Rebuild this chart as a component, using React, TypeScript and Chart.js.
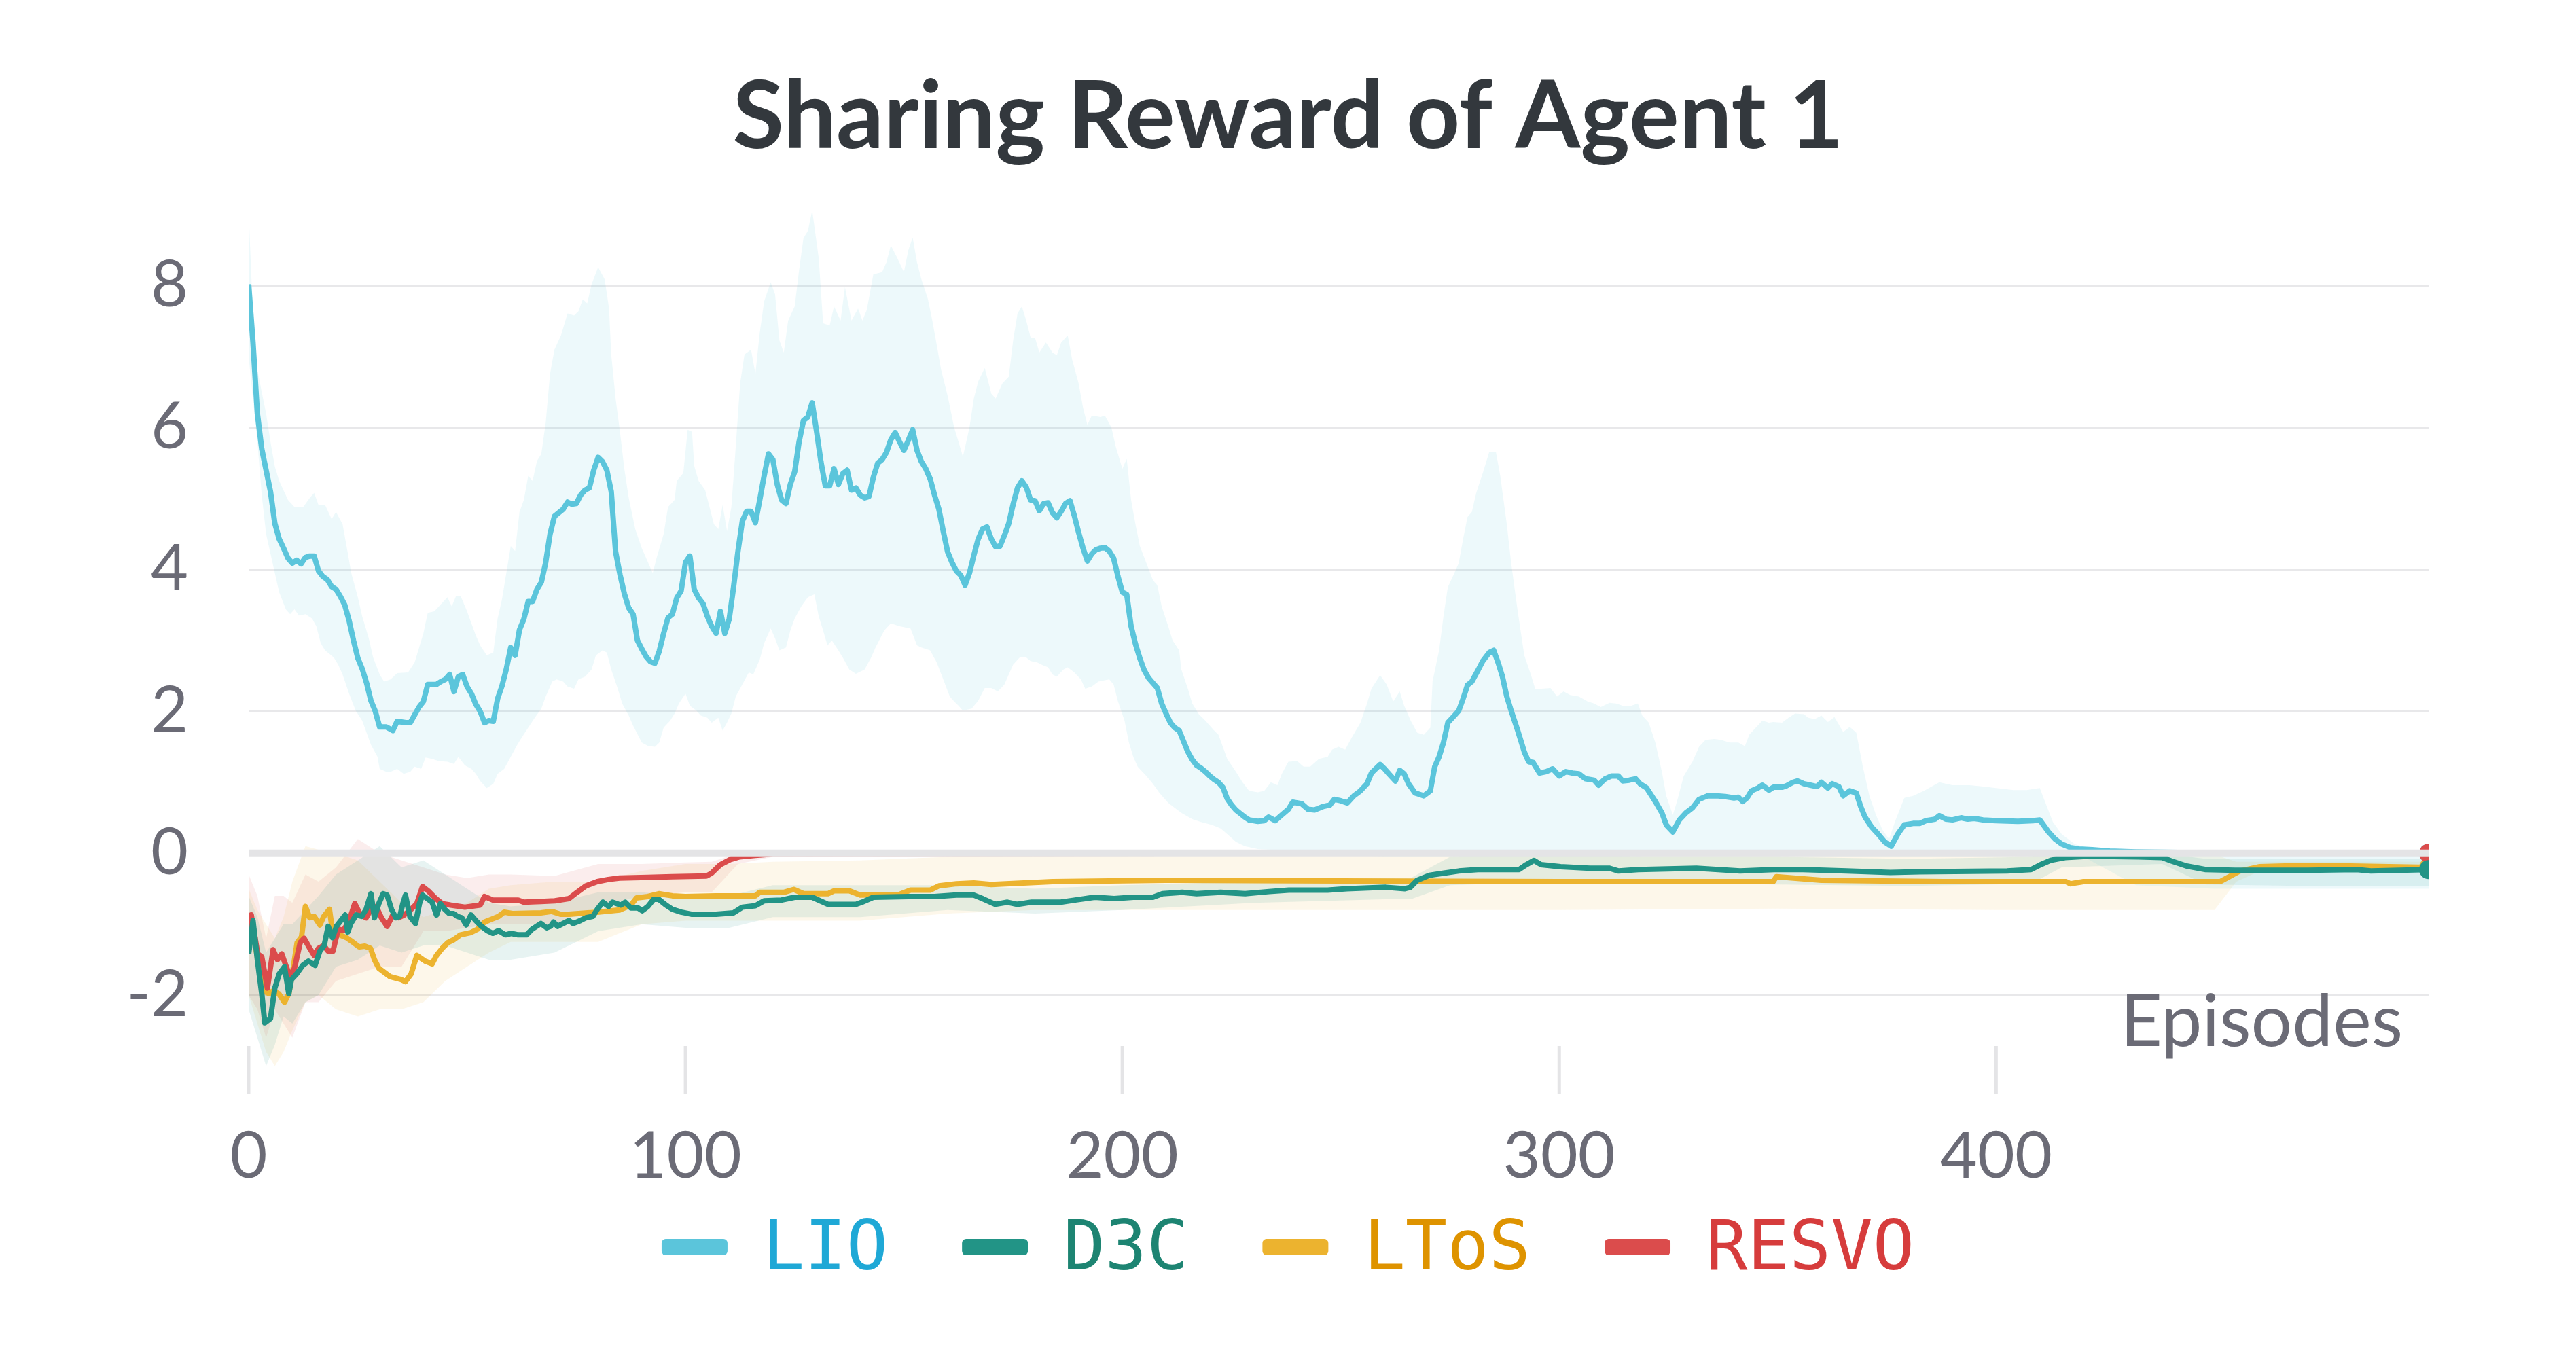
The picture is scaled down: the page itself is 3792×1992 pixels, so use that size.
import { useEffect, useRef } from "react";
import { Chart, registerables } from "chart.js";

Chart.register(...registerables);

// series names and colours, in legend order
const seriesNames = ["LIO", "D3C", "LToS", "RESVO"];
const lineColors = ["#5bc5db", "#229486", "#ecb32f", "#db4c4c"];
const textColors = ["#1fa8d6", "#1d8472", "#de9300", "#d63c3c"];
const bandColors = [
  "rgba(91, 197, 219, 0.11)",
  "rgba(34, 148, 134, 0.11)",
  "rgba(236, 179, 47, 0.1)",
  "rgba(219, 76, 76, 0.1)",
];

const xTicks = [0, 100, 200, 300, 400];
const yTicks = [-2, 0, 2, 4, 6, 8];

type Pt = [number, number];

// [episode, reward]
const lioMean: Pt[] = [
  [0, 8.02], [1, 7.2], [2, 6.2], [3, 5.7], [4, 5.4], [5, 5.1], [6, 4.65], [7, 4.43], [8, 4.3], [9, 4.16],
  [10, 4.09], [11, 4.13], [12, 4.08], [13, 4.17], [14, 4.19], [15, 4.19], [16, 3.98], [17, 3.9], [18, 3.86],
  [19, 3.76], [20, 3.72], [21, 3.62], [22, 3.5], [23, 3.28], [24, 3.0], [25, 2.75], [26, 2.6], [27, 2.4],
  [28, 2.15], [29, 2.0], [30, 1.78], [31.5, 1.78], [33, 1.73], [34, 1.86], [36, 1.84], [37, 1.84], [39, 2.06],
  [40, 2.14], [41, 2.38], [43, 2.38], [44, 2.42], [45, 2.45], [46, 2.52], [47, 2.28], [48, 2.49], [49, 2.52],
  [50, 2.35], [51, 2.25], [52, 2.1], [53, 2.0], [54, 1.84], [55, 1.87], [56, 1.86], [57, 2.18], [58, 2.36],
  [59, 2.6], [60, 2.9], [61, 2.79], [62, 3.15], [63, 3.3], [64, 3.55], [65, 3.55], [66, 3.72], [67, 3.82],
  [68, 4.1], [69, 4.5], [70, 4.75], [71, 4.8], [72, 4.85], [73, 4.95], [74, 4.92], [75, 4.93], [76, 5.05],
  [77, 5.12], [78, 5.15], [79, 5.4], [80, 5.58], [81, 5.52], [82, 5.4], [83, 5.1], [84, 4.25], [85, 3.93],
  [86, 3.66], [87, 3.46], [88, 3.37], [89, 3.0], [90, 2.88], [91, 2.77], [92, 2.7], [93, 2.68], [94, 2.85],
  [95, 3.1], [96, 3.32], [97, 3.37], [98, 3.6], [99, 3.7], [100, 4.1], [101, 4.19], [102, 3.72], [103, 3.6],
  [104, 3.52], [105, 3.34], [106, 3.2], [107, 3.1], [108, 3.41], [109, 3.1], [110, 3.3], [111, 3.75],
  [112, 4.25], [113, 4.68], [114, 4.82], [115, 4.82], [116, 4.66], [117, 4.98], [118, 5.32], [119, 5.63],
  [120, 5.55], [121, 5.2], [122, 4.98], [123, 4.93], [124, 5.2], [125, 5.38], [126, 5.8], [127, 6.1],
  [128, 6.15], [129, 6.35], [130, 5.95], [131, 5.52], [132, 5.18], [133, 5.18], [134, 5.42], [135, 5.2],
  [136, 5.35], [137, 5.4], [138, 5.12], [139, 5.15], [140, 5.05], [141, 5.01], [142, 5.03], [143, 5.3],
  [144, 5.5], [145, 5.55], [146, 5.65], [147, 5.83], [148, 5.93], [149, 5.8], [150, 5.68], [151, 5.82],
  [152, 5.97], [153, 5.68], [154, 5.52], [155, 5.42], [156, 5.28], [157, 5.05], [158, 4.85], [159, 4.54],
  [160, 4.25], [161, 4.1], [162, 3.98], [163, 3.92], [164, 3.78], [165, 3.95], [166, 4.2], [167, 4.43],
  [168, 4.57], [169, 4.6], [170, 4.43], [171, 4.32], [172, 4.33], [173, 4.48], [174, 4.65], [175, 4.92],
  [176, 5.15], [177, 5.25], [178, 5.16], [179, 4.98], [180, 4.97], [181, 4.83], [182, 4.93], [183, 4.94],
  [184, 4.8], [185, 4.73], [186, 4.82], [187, 4.93], [188, 4.97], [189, 4.76], [190, 4.52], [191, 4.3],
  [192, 4.12], [193, 4.22], [194, 4.28], [195, 4.3], [196, 4.31], [197, 4.26], [198, 4.16], [199, 3.9],
  [200, 3.68], [201, 3.65], [202, 3.2], [203, 2.95], [204, 2.75], [205, 2.58], [206, 2.47], [207, 2.4],
  [208, 2.33], [209, 2.11], [210, 1.97], [211, 1.84], [212, 1.77], [213, 1.73], [214, 1.58], [215, 1.43],
  [216, 1.32], [217, 1.24], [218, 1.2], [219, 1.15], [220, 1.09], [221, 1.04], [222, 1.0], [223, 0.93],
  [224, 0.77], [225, 0.68], [226, 0.61], [227, 0.56], [228, 0.51], [229, 0.47], [231, 0.45], [232.5, 0.46],
  [233.5, 0.51], [235, 0.46], [236.5, 0.54], [238, 0.62], [239, 0.72], [241, 0.7], [242.5, 0.62], [244, 0.61],
  [246, 0.66], [247.5, 0.68], [248.5, 0.76], [250, 0.74], [251.5, 0.71], [253, 0.81], [254.5, 0.88],
  [256, 0.98], [257, 1.13], [259, 1.25], [260, 1.19], [261, 1.12], [262.5, 1.02], [263.5, 1.17],
  [264.5, 1.12], [265.5, 0.98], [267, 0.85], [268, 0.83], [269, 0.81], [270.5, 0.88], [271.5, 1.22],
  [272.5, 1.36], [273.5, 1.56], [274.5, 1.84], [276, 1.94], [277, 2.01], [278, 2.18], [279, 2.37],
  [280, 2.42], [281.5, 2.59], [282.5, 2.71], [284, 2.83], [285, 2.86], [286, 2.69], [287, 2.49], [288, 2.21],
  [289, 2.01], [290.5, 1.73], [292, 1.43], [293, 1.29], [294, 1.28], [295.5, 1.13], [297, 1.15],
  [298.5, 1.19], [300, 1.09], [301.5, 1.15], [303, 1.13], [304.5, 1.12], [306, 1.05], [308, 1.03],
  [309, 0.96], [310.5, 1.05], [312, 1.09], [313.5, 1.09], [314.5, 1.02], [316, 1.03], [317.5, 1.05],
  [318.5, 0.98], [320, 0.92], [322, 0.73], [323.5, 0.57], [324.5, 0.4], [326, 0.3], [327.5, 0.47],
  [329, 0.57], [330.5, 0.64], [332, 0.76], [334, 0.81], [336, 0.81], [338, 0.8], [340, 0.78], [341, 0.79],
  [342, 0.73], [343, 0.78], [344, 0.88], [345.5, 0.92], [346.5, 0.96], [348, 0.89], [349, 0.93], [351, 0.93],
  [352, 0.95], [353.5, 1.0], [354.5, 1.02], [356, 0.98], [357.5, 0.96], [359, 0.94], [360, 1.0],
  [361.5, 0.92], [362.5, 0.98], [364, 0.94], [365, 0.81], [366.5, 0.88], [368, 0.85], [369, 0.66],
  [370, 0.51], [371.5, 0.37], [373, 0.27], [374.5, 0.16], [376, 0.1], [377.5, 0.27], [379, 0.4], [381, 0.42],
  [382.5, 0.42], [384, 0.46], [386, 0.48], [387, 0.53], [388.5, 0.48], [390, 0.47], [392, 0.5], [393.5, 0.48],
  [395, 0.49], [397, 0.47], [400, 0.46], [405, 0.45], [408.5, 0.46], [410, 0.47], [412, 0.3], [413.5, 0.2],
  [415, 0.13], [417, 0.08], [419, 0.06], [422, 0.05], [426, 0.03], [432, 0.02], [445, 0.01], [499, 0.0],
];

const lioUpper: Pt[] = [
  [0, 9.05], [1, 7.57], [2, 6.82], [3, 6.5], [4, 6.2], [5, 5.8], [6, 5.45], [7, 5.25], [9, 4.98], [10.5, 4.88],
  [12.5, 4.88], [14, 5.01], [15, 5.08], [16, 4.91], [17.5, 4.91], [19, 4.71], [20, 4.81], [21.5, 4.64],
  [22.5, 4.3], [23.5, 3.95], [25, 3.61], [26, 3.34], [27.5, 3.03], [28.5, 2.76], [30, 2.52], [31, 2.42],
  [32.5, 2.45], [34, 2.54], [36.5, 2.55], [38, 2.69], [40, 3.1], [41, 3.39], [42.5, 3.41], [44, 3.51],
  [45.5, 3.61], [46.5, 3.48], [47.5, 3.63], [48.5, 3.63], [50, 3.41], [51, 3.24], [52, 3.07], [53, 2.93],
  [54.5, 2.79], [56, 2.83], [57, 3.31], [58, 3.58], [60, 4.33], [61, 4.26], [62, 4.81], [63, 4.98], [64, 5.32],
  [65, 5.25], [66, 5.53], [67, 5.63], [68, 6.07], [69, 6.76], [70, 7.1], [71.5, 7.3], [73, 7.61], [74.5, 7.58],
  [75.5, 7.64], [76.5, 7.81], [77.5, 7.75], [78.5, 8.02], [80, 8.26], [81.5, 8.09], [82.5, 7.68], [83, 7.03],
  [84, 6.41], [85, 5.94], [86, 5.42], [87, 5.01], [88.5, 4.57], [90, 4.3], [91.5, 4.09], [92.5, 3.95],
  [93.5, 4.19], [95, 4.5], [96, 4.88], [97.5, 4.98], [98, 5.25], [99.5, 5.36], [100.5, 5.97], [101.5, 5.94],
  [102, 5.46], [103, 5.25], [104.5, 5.12], [105.5, 4.88], [106.5, 4.64], [107.5, 4.57], [108.5, 4.91],
  [109.5, 4.54], [110.5, 4.88], [111.5, 5.73], [112.5, 6.62], [113.5, 7.03], [115, 7.1], [116, 6.76],
  [117, 7.34], [118, 7.78], [119.5, 8.05], [120.5, 7.88], [121.5, 7.23], [122.5, 7.06], [123.5, 7.51],
  [125, 7.71], [126, 8.22], [127, 8.67], [128, 8.77], [129, 9.06], [130.5, 8.39], [131.5, 7.47], [133, 7.44],
  [134, 7.71], [135.5, 7.51], [136.5, 7.98], [138, 7.51], [139.5, 7.68], [140.5, 7.51], [141.5, 7.66],
  [143, 8.16], [145, 8.19], [146, 8.33], [147, 8.57], [148.5, 8.39], [150, 8.19], [151, 8.5], [152, 8.68],
  [153, 8.33], [154, 8.09], [155.5, 7.81], [156.5, 7.51], [157.5, 7.17], [158.5, 6.82], [160, 6.45],
  [161.5, 6.0], [162.5, 5.8], [163.5, 5.59], [165, 6.0], [166, 6.41], [167, 6.65], [168.5, 6.84], [170, 6.48],
  [171, 6.41], [172.5, 6.62], [174, 6.72], [175, 7.23], [176, 7.61], [177, 7.71], [178, 7.51], [179, 7.27],
  [180, 7.27], [181, 7.06], [182.5, 7.2], [184, 7.06], [185, 7.02], [186, 7.2], [187.5, 7.3], [188.5, 6.96],
  [190, 6.62], [191, 6.28], [192, 6.04], [193, 6.17], [195, 6.15], [196, 6.17], [197.5, 6.0], [198.5, 5.73],
  [200, 5.42], [201, 5.56], [202, 4.98], [203, 4.64], [204, 4.33], [205.5, 4.09], [207, 3.85], [208, 3.78],
  [209, 3.48], [210.5, 3.2], [211.5, 3.0], [213, 2.86], [213.5, 2.59], [215, 2.32], [216, 2.11],
  [217.5, 1.96], [219, 1.87], [221, 1.73], [222, 1.67], [223, 1.5], [224, 1.33], [226, 1.15], [227.5, 1.0],
  [229, 0.88], [231, 0.86], [232.5, 0.88], [234, 1.0], [235.5, 0.96], [236.5, 1.12], [238, 1.29], [240, 1.3],
  [241.5, 1.22], [243, 1.22], [245, 1.33], [247, 1.36], [248, 1.46], [249.5, 1.5], [251, 1.46], [252.5, 1.63],
  [254.5, 1.84], [256, 2.11], [257, 2.32], [259, 2.51], [260.5, 2.38], [262, 2.14], [263.5, 2.28],
  [264.5, 2.08], [266, 1.87], [267.5, 1.7], [269, 1.67], [270.5, 1.77], [271, 2.42], [272.5, 2.86],
  [273.5, 3.34], [274.5, 3.75], [276, 3.95], [277, 4.09], [278, 4.43], [279, 4.74], [280, 4.81], [281, 5.08],
  [282.5, 5.36], [284, 5.66], [285.5, 5.66], [286.5, 5.32], [288, 4.64], [289, 4.09], [290.5, 3.41],
  [292, 2.79], [293.5, 2.52], [294.5, 2.32], [296, 2.32], [298, 2.33], [299.5, 2.21], [301, 2.28],
  [302.5, 2.23], [304.5, 2.21], [306.5, 2.14], [308, 2.11], [309.5, 2.06], [311.5, 2.12], [313, 2.11],
  [314.5, 2.08], [316.5, 2.08], [318, 2.11], [319, 1.94], [320.5, 1.84], [322, 1.56], [323.5, 1.15],
  [324.5, 0.81], [326, 0.54], [327, 0.74], [328.5, 1.09], [330.5, 1.29], [332, 1.5], [333.5, 1.6],
  [335.5, 1.61], [337, 1.6], [339, 1.56], [341, 1.56], [342.5, 1.51], [343.5, 1.67], [345, 1.77],
  [346.5, 1.87], [348, 1.84], [349, 1.85], [351, 1.84], [352.5, 1.91], [354, 1.97], [356, 1.96], [357, 1.91],
  [358.5, 1.89], [360, 1.94], [361.5, 1.85], [363, 1.92], [365, 1.71], [366.5, 1.78], [368, 1.7],
  [369.5, 1.22], [371, 0.81], [372.5, 0.54], [374, 0.33], [375.5, 0.2], [377, 0.47], [379, 0.78], [381, 0.81],
  [383.5, 0.88], [387, 1.0], [390, 0.96], [394, 0.96], [397, 0.94], [400, 0.92], [404, 0.89], [407, 0.89],
  [410, 0.92], [411.5, 0.68], [413, 0.44], [415, 0.27], [418, 0.13], [422.5, 0.05], [430, 0.03], [499, 0.02],
];

const lioLower: Pt[] = [
  [0, 7.0], [1, 6.4], [2, 5.8], [3, 5.05], [4, 4.5], [6, 3.95], [7, 3.68], [8.5, 3.44], [9.5, 3.37],
  [10.5, 3.44], [11.5, 3.35], [13, 3.37], [14.5, 3.31], [15.5, 3.2], [16.5, 2.96], [17.5, 2.86], [19.5, 2.76],
  [20.5, 2.66], [21.5, 2.52], [23, 2.25], [24.5, 2.01], [26, 1.87], [27, 1.7], [28, 1.53], [29.5, 1.36],
  [30, 1.19], [31.5, 1.15], [32.5, 1.15], [34, 1.19], [35.5, 1.12], [37, 1.15], [38, 1.22], [39.5, 1.19],
  [40.5, 1.35], [42, 1.33], [43.5, 1.3], [45.5, 1.29], [47, 1.26], [48, 1.36], [49.5, 1.24], [51, 1.19],
  [52, 1.12], [53, 1.02], [54.5, 0.92], [56, 0.98], [57, 1.12], [58.5, 1.19], [60, 1.36], [61.5, 1.53],
  [62.5, 1.63], [64, 1.77], [65.5, 1.91], [67, 2.04], [68, 2.21], [69.5, 2.42], [70.5, 2.45], [72, 2.42],
  [73, 2.35], [74.5, 2.32], [75.5, 2.45], [77, 2.49], [78.5, 2.59], [79.5, 2.79], [81, 2.86], [82, 2.83],
  [83, 2.59], [84.5, 2.32], [85.5, 2.11], [87, 1.94], [88, 1.8], [90, 1.56], [91.5, 1.51], [93, 1.5],
  [94, 1.56], [95, 1.77], [96.5, 1.87], [97.5, 1.97], [98.5, 2.11], [100, 2.25], [101, 2.08], [102.5, 2.01],
  [103.5, 1.94], [105, 1.91], [106, 1.84], [107.5, 1.91], [108.5, 1.73], [109.5, 1.84], [110.5, 1.97],
  [111.5, 2.21], [113, 2.38], [114.5, 2.55], [115.5, 2.52], [117, 2.73], [118, 2.96], [119.5, 3.17],
  [120.5, 3.03], [121.5, 2.86], [123, 2.9], [124, 3.14], [125, 3.31], [126.5, 3.48], [128, 3.61],
  [129.5, 3.65], [130.5, 3.34], [131.5, 3.14], [132.5, 2.93], [133.5, 3.0], [135, 2.86], [136, 2.76],
  [137.5, 2.59], [139, 2.53], [141, 2.59], [142.5, 2.76], [143.5, 2.9], [145.5, 3.14], [147, 3.24],
  [149, 3.2], [151.5, 3.17], [153, 2.93], [154, 2.9], [156, 2.86], [157.5, 2.69], [159, 2.45], [160.5, 2.21],
  [161.5, 2.14], [162.5, 2.08], [163.5, 2.01], [165.5, 2.04], [167, 2.15], [168.5, 2.33], [170, 2.33],
  [171.5, 2.28], [173, 2.38], [174, 2.52], [175, 2.66], [176.5, 2.76], [178, 2.76], [179, 2.71],
  [180.5, 2.69], [181.5, 2.66], [183, 2.62], [184, 2.52], [185, 2.49], [186.5, 2.59], [187.5, 2.62],
  [189, 2.55], [190.5, 2.45], [191.5, 2.32], [193, 2.35], [194.5, 2.42], [196, 2.44], [197, 2.45],
  [198, 2.38], [199, 2.14], [200.5, 1.87], [201.5, 1.56], [202.5, 1.36], [203.5, 1.22], [205.5, 1.09],
  [207, 0.98], [208.5, 0.85], [210.5, 0.71], [212, 0.64], [213.5, 0.57], [216, 0.48], [218, 0.44],
  [220.5, 0.4], [222.5, 0.35], [224, 0.27], [226, 0.16], [228, 0.1], [231, 0.06], [234, 0.05], [236, 0.03],
  [240, -0.02], [260, -0.05], [300, -0.05], [360, -0.05], [420, -0.05], [432, -0.45], [450, -0.5],
  [499, -0.5],
];

const d3cMean: Pt[] = [
  [0, -1.42], [1, -0.95], [2, -1.5], [3, -1.98], [3.7, -2.39], [5, -2.33], [6, -1.9], [7, -1.7], [8.2, -1.6],
  [9.2, -1.98], [9.8, -1.78], [11, -1.7], [12.4, -1.58], [13.7, -1.52], [15.2, -1.58], [16.3, -1.38],
  [17.3, -1.3], [18.2, -1.03], [19.2, -1.19], [20.1, -1.03], [21.1, -0.95], [22.1, -0.87], [22.7, -1.11],
  [23.4, -0.99], [24.6, -0.87], [25.9, -0.89], [26.9, -0.79], [28, -0.57], [28.8, -0.91], [29.8, -0.71],
  [30.8, -0.57], [31.7, -0.59], [32.7, -0.79], [33.7, -0.91], [34.6, -0.89], [35.3, -0.71], [35.9, -0.59],
  [36.9, -0.89], [38.2, -0.99], [39.1, -0.71], [39.8, -0.59], [41.1, -0.65], [42, -0.69], [43, -0.87],
  [43.9, -0.71], [44.9, -0.79], [45.9, -0.85], [46.9, -0.85], [47.8, -0.89], [48.8, -0.91], [49.8, -1.01],
  [50.9, -0.87], [52, -0.95], [53.3, -1.03], [54.6, -1.09], [55.9, -1.13], [57.2, -1.09], [58.8, -1.15],
  [60.1, -1.13], [61.7, -1.15], [63.6, -1.15], [64.9, -1.07], [66.9, -0.99], [68.2, -1.05], [69.1, -1.03],
  [69.8, -0.97], [70.7, -1.03], [72, -0.99], [73.3, -0.95], [74.3, -0.99], [75.9, -0.95], [77.2, -0.91],
  [78.8, -0.89], [79.8, -0.79], [81.1, -0.69], [82.4, -0.75], [83.3, -0.69], [85.2, -0.73], [86.2, -0.69],
  [87.5, -0.77], [89.1, -0.77], [90.1, -0.81], [91.4, -0.75], [92.7, -0.65], [93.9, -0.65], [95.5, -0.73],
  [97, -0.79], [99, -0.83], [101.5, -0.86], [104, -0.86], [107, -0.86], [109, -0.85], [111, -0.84],
  [113, -0.76], [116, -0.74], [118, -0.67], [122, -0.66], [125, -0.62], [129, -0.62], [132.6, -0.72],
  [139, -0.72], [140.4, -0.69], [143, -0.62], [151, -0.61], [157, -0.61], [162, -0.59], [166, -0.59],
  [168, -0.64], [170.9, -0.72], [173.7, -0.69], [175.9, -0.72], [179.2, -0.69], [185.9, -0.69],
  [189.2, -0.66], [193.7, -0.62], [198.1, -0.64], [202.5, -0.62], [207, -0.62], [209.2, -0.57],
  [213.7, -0.55], [217, -0.57], [222.5, -0.55], [228.1, -0.57], [233.6, -0.54], [238.1, -0.52], [247, -0.52],
  [251.4, -0.5], [260.3, -0.48], [264.7, -0.5], [265.9, -0.48], [267.5, -0.38], [270.3, -0.31],
  [273.6, -0.28], [277, -0.25], [281.4, -0.23], [290.8, -0.23], [292.5, -0.16], [294.2, -0.1],
  [295.8, -0.16], [300.3, -0.19], [307, -0.21], [311.4, -0.21], [313.6, -0.25], [318.1, -0.23],
  [331.4, -0.21], [341.4, -0.25], [349.2, -0.23], [355.8, -0.23], [365.8, -0.25], [375.8, -0.27],
  [382.5, -0.26], [402.5, -0.25], [408, -0.23], [410.2, -0.16], [412.5, -0.1], [415.8, -0.06], [421.3, -0.04],
  [432.5, -0.05], [438, -0.06], [440.2, -0.11], [443.6, -0.18], [448, -0.23], [454.7, -0.24], [471.3, -0.24],
  [482.5, -0.23], [485.8, -0.25], [499, -0.23],
];

const ltosMean: Pt[] = [
  [0, -1.26], [1, -1.11], [2.1, -1.5], [3.4, -1.94], [4.7, -1.98], [5.6, -1.94], [6.9, -1.98], [8.2, -2.1],
  [9.2, -1.98], [10.1, -1.66], [11.1, -1.26], [12.1, -1.18], [13, -0.75], [14, -0.91], [15, -0.89],
  [16.3, -1.01], [17.2, -0.89], [18.5, -0.79], [19.3, -1.15], [20.8, -1.15], [22.4, -1.19], [24, -1.26],
  [25.3, -1.32], [26.6, -1.31], [27.9, -1.34], [28.8, -1.5], [29.8, -1.62], [31.1, -1.68], [32.4, -1.74],
  [33.7, -1.76], [34.9, -1.78], [35.9, -1.81], [37.2, -1.7], [38.5, -1.44], [40.4, -1.52], [42, -1.56],
  [43, -1.44], [44.3, -1.34], [45.6, -1.26], [46.9, -1.22], [48.5, -1.15], [50.8, -1.12], [52.4, -1.07],
  [54, -0.97], [55.6, -0.93], [57.2, -0.89], [58.5, -0.83], [60.4, -0.85], [66.9, -0.84], [69.4, -0.82],
  [71.4, -0.86], [73.3, -0.86], [79.8, -0.83], [84.9, -0.8], [87.5, -0.73], [88.8, -0.63], [91.4, -0.61],
  [93.9, -0.57], [97, -0.6], [100, -0.61], [107, -0.6], [116, -0.6], [117, -0.55], [122.6, -0.55],
  [124.8, -0.51], [127, -0.57], [132.6, -0.57], [134, -0.53], [137.5, -0.53], [140, -0.59], [149, -0.58],
  [151.5, -0.52], [156, -0.52], [158, -0.46], [162, -0.43], [166, -0.42], [170, -0.44], [184, -0.4],
  [210, -0.38], [250, -0.39], [300, -0.4], [349, -0.4], [349.7, -0.33], [360, -0.38], [388, -0.4],
  [416, -0.4], [417, -0.43], [420, -0.4], [451.3, -0.4], [455.8, -0.25], [460.2, -0.19], [472, -0.17],
  [499, -0.2],
];

const resvoMean: Pt[] = [
  [0, -1.2], [0.6, -0.87], [2.1, -1.42], [3, -1.46], [4.3, -1.9], [5.6, -1.36], [6.6, -1.5], [7.6, -1.42],
  [8.5, -1.58], [9.5, -1.74], [10.5, -1.62], [11.8, -1.26], [12.7, -1.2], [14, -1.34], [15, -1.44],
  [16, -1.34], [17.2, -1.3], [18.2, -1.38], [19.3, -1.38], [20.5, -1.07], [21.7, -1.09], [23, -0.95],
  [24.3, -0.71], [25.6, -0.87], [26.9, -0.91], [28, -0.79], [29.2, -0.75], [30.4, -0.91], [31.7, -1.03],
  [33, -0.87], [34.3, -0.91], [35.6, -0.87], [37.2, -0.79], [38.5, -0.71], [39.8, -0.47], [41.1, -0.53],
  [42.7, -0.63], [44.3, -0.71], [46.2, -0.73], [49.5, -0.76], [53, -0.73], [54, -0.61], [55.9, -0.66],
  [61.7, -0.66], [63, -0.69], [66.9, -0.68], [70.1, -0.67], [73.3, -0.64], [75.2, -0.55], [77.2, -0.46],
  [79.8, -0.4], [82.3, -0.37], [84.9, -0.35], [91.4, -0.34], [97, -0.33], [104.8, -0.32], [106, -0.28],
  [108, -0.16], [110.2, -0.09], [112.4, -0.05], [116, -0.03], [120, -0.01], [499, 0.0],
];

const d3cUpper: Pt[] = [
  [0, -0.6], [2, -0.9], [4, -1.4], [6, -1.2], [8, -1.0], [10, -1.0], [13, -0.8], [16, -0.6], [20, -0.3],
  [25, -0.1], [30, 0.1], [35, -0.2], [40, -0.1], [45, -0.3], [50, -0.5], [55, -0.7], [60, -0.75], [70, -0.7],
  [80, -0.55], [90, -0.55], [100, -0.6], [110, -0.6], [120, -0.45], [140, -0.45], [160, -0.45], [180, -0.5],
  [200, -0.45], [230, -0.4], [260, -0.35], [266, -0.35], [275, -0.05], [290, -0.03], [320, -0.05],
  [350, -0.05], [380, -0.08], [408, -0.05], [415, 0.0], [438, 0.0], [448, -0.08], [470, -0.08], [499, -0.08],
];
const d3cLower: Pt[] = [
  [0, -2.2], [2, -2.6], [4, -3.0], [6, -2.7], [8, -2.3], [10, -2.4], [13, -2.1], [16, -2.0], [20, -1.6],
  [25, -1.5], [30, -1.3], [35, -1.4], [40, -1.3], [45, -1.3], [50, -1.4], [55, -1.5], [60, -1.5], [70, -1.4],
  [80, -1.1], [90, -1.0], [100, -1.05], [110, -1.05], [120, -0.9], [140, -0.9], [160, -0.8], [180, -0.85],
  [200, -0.8], [230, -0.7], [260, -0.65], [266, -0.65], [275, -0.45], [290, -0.42], [320, -0.42],
  [350, -0.44], [380, -0.46], [408, -0.43], [415, -0.2], [438, -0.15], [448, -0.44], [470, -0.46],
  [499, -0.46],
];

const ltosUpper: Pt[] = [
  [0, -0.5], [2, -0.8], [4, -1.0], [6, -1.2], [8, -0.9], [10, -0.4], [13, 0.1], [16, 0.05], [20, 0.0],
  [25, -0.1], [30, -0.4], [35, -0.7], [40, -0.9], [45, -0.8], [50, -0.7], [55, -0.5], [60, -0.45],
  [70, -0.4], [80, -0.4], [90, -0.25], [100, -0.15], [110, -0.15], [120, -0.12], [140, -0.1], [160, -0.05],
  [180, -0.02], [230, -0.02], [300, -0.02], [350, 0.0], [400, -0.02], [450, -0.02], [455, -0.12],
  [460, -0.12], [480, -0.12], [499, -0.12],
];
const ltosLower: Pt[] = [
  [0, -2.0], [2, -2.4], [4, -2.8], [6, -3.0], [8, -2.8], [10, -2.5], [13, -2.1], [16, -2.0], [20, -2.2],
  [25, -2.3], [30, -2.2], [35, -2.2], [40, -2.1], [45, -1.8], [50, -1.6], [55, -1.4], [60, -1.25],
  [70, -1.25], [80, -1.25], [90, -1.0], [100, -0.95], [110, -0.95], [120, -0.95], [140, -0.95], [160, -0.85],
  [180, -0.8], [230, -0.8], [300, -0.8], [350, -0.78], [400, -0.8], [450, -0.8], [455, -0.4], [460, -0.26],
  [480, -0.24], [499, -0.24],
];

const resvoUpper: Pt[] = [
  [0, -0.3], [2, -0.6], [4, -1.2], [6, -0.6], [8, -0.6], [10, -0.7], [13, -0.3], [16, -0.4], [20, -0.2],
  [25, 0.2], [30, 0.0], [35, -0.1], [40, -0.2], [45, -0.3], [50, -0.35], [55, -0.3], [60, -0.3],
  [70, -0.32], [80, -0.15], [90, -0.15], [100, -0.13], [106, -0.12], [112, 0.0], [120, 0.0], [499, 0.0],
];
const resvoLower: Pt[] = [
  [0, -2.0], [2, -2.2], [4, -2.6], [6, -2.2], [8, -2.4], [10, -2.6], [13, -2.1], [16, -2.1], [20, -1.8],
  [25, -1.7], [30, -1.6], [35, -1.6], [40, -1.1], [45, -1.1], [50, -1.05], [55, -1.0], [60, -1.0],
  [70, -1.0], [80, -0.75], [90, -0.6], [100, -0.55], [106, -0.55], [112, -0.15], [120, -0.05], [499, -0.03],
];

const means = [lioMean, d3cMean, ltosMean, resvoMean];
const bands: [Pt[], Pt[]][] = [
  [lioUpper, lioLower],
  [d3cUpper, d3cLower],
  [ltosUpper, ltosLower],
  [resvoUpper, resvoLower],
];
// drawing order: lower number ends up on top
const lineOrder = [3, 0, 2, 1];

const toXY = (pts: Pt[]) => pts.map(([x, y]) => ({ x, y }));

const decorations = {
  id: "decorations",
  beforeDatasetsDraw(chart: any) {
    const { ctx, chartArea, scales } = chart;
    ctx.save();
    ctx.strokeStyle = "#e4e4e6";
    ctx.lineWidth = 5;
    xTicks.forEach((t) => {
      const px = scales.x.getPixelForValue(t);
      ctx.beginPath();
      ctx.moveTo(px, chartArea.bottom - 40);
      ctx.lineTo(px, chartArea.bottom + 31);
      ctx.stroke();
    });
    ctx.restore();
  },
  afterDatasetsDraw(chart: any) {
    const { ctx, chartArea, scales } = chart;
    const y0 = scales.y.getPixelForValue(0);
    ctx.save();
    // the zero line sits above the curves
    ctx.strokeStyle = "#e4e4e6";
    ctx.lineWidth = 11;
    ctx.beginPath();
    ctx.moveTo(chartArea.left, y0);
    ctx.lineTo(chartArea.right, y0);
    ctx.stroke();
    ctx.fillStyle = "#6b6b76";
    ctx.font = "107px Lato";
    ctx.textAlign = "right";
    ctx.textBaseline = "alphabetic";
    ctx.fillText("Episodes", chartArea.right - 38, chartArea.bottom - 40);
    ctx.restore();
  },
  afterDraw(chart: any) {
    // legend row: swatch, name in the series' text colour
    const { ctx, width, height } = chart;
    const swatchW = 97;
    const swatchH = 24;
    const gap = 52;
    const spacing = 109;
    ctx.save();
    ctx.font = "102px 'DejaVu Sans Mono'";
    const widths = seriesNames.map((n) => swatchW + gap + ctx.measureText(n).width);
    const total = widths.reduce((a, b) => a + b, 0) + spacing * (seriesNames.length - 1);
    let x = (width - total) / 2;
    const cy = height - 150;
    seriesNames.forEach((name, i) => {
      ctx.fillStyle = lineColors[i];
      ctx.beginPath();
      ctx.roundRect(x, cy - swatchH / 2 - 6, swatchW, swatchH, 6);
      ctx.fill();
      ctx.fillStyle = textColors[i];
      ctx.textAlign = "left";
      ctx.textBaseline = "middle";
      ctx.fillText(name, x + swatchW + gap, cy);
      x += widths[i] + spacing;
    });
    ctx.restore();
  },
};

export default function App() {
  const canvasRef = useRef<HTMLCanvasElement | null>(null);

  useEffect(() => {
    if (!canvasRef.current) return;

    const lineSets = seriesNames.map((name, i) => ({
      label: name,
      data: toXY(means[i]),
      borderColor: lineColors[i],
      backgroundColor: lineColors[i],
      borderWidth: 8,
      borderJoinStyle: "round",
      tension: 0,
      fill: false,
      order: lineOrder[i],
      pointRadius: (c: any) => (c.dataIndex === means[i].length - 1 ? 14 : 0),
      pointBorderWidth: 0,
      pointHoverRadius: 0,
    }));

    const bandSets: any[] = [];
    bands.forEach(([up, low], i) => {
      bandSets.push({
        label: seriesNames[i] + " upper",
        data: toXY(up),
        borderWidth: 0,
        pointRadius: 0,
        backgroundColor: bandColors[i],
        fill: "+1",
        order: 10 + i,
      });
      bandSets.push({
        label: seriesNames[i] + " lower",
        data: toXY(low),
        borderWidth: 0,
        pointRadius: 0,
        backgroundColor: bandColors[i],
        fill: false,
        order: 10 + i,
      });
    });

    const chart = new Chart(canvasRef.current, {
      type: "line",
      data: { datasets: [...lineSets, ...bandSets] as any },
      options: {
        animation: false,
        responsive: true,
        maintainAspectRatio: false,
        devicePixelRatio: 1,
        layout: { padding: { left: 0, right: 0, top: 0, bottom: 166 } },
        plugins: {
          tooltip: { enabled: false },
          legend: { display: false },
          title: {
            display: true,
            text: "Sharing Reward of Agent 1",
            color: "#33383d",
            font: { family: "Lato", weight: "bold", size: 138 },
            padding: { top: 91, bottom: 44 },
          },
        },
        scales: {
          x: {
            type: "linear",
            min: 0,
            max: 499,
            afterBuildTicks: (s: any) => {
              s.ticks = xTicks.map((v) => ({ value: v }));
            },
            grid: { display: false, drawTicks: false },
            border: { display: false },
            ticks: {
              color: "#6b6b76",
              font: { family: "Lato", size: 95 },
              padding: 66,
              maxRotation: 0,
              autoSkip: false,
            },
          },
          y: {
            type: "linear",
            min: -3.1,
            max: 9.15,
            afterBuildTicks: (s: any) => {
              s.ticks = yTicks.map((v) => ({ value: v }));
            },
            afterFit: (s: any) => {
              s.width = 366;
            },
            grid: {
              drawTicks: false,
              color: (c: any) => (c.tick && c.tick.value === 0 ? "rgba(0,0,0,0)" : "#e8e8ea"),
              lineWidth: 3,
            },
            border: { display: false },
            ticks: {
              color: "#6b6b76",
              font: { family: "Lato", size: 95 },
              padding: 89,
            },
          },
          // empty right-hand axis keeps the plot clear of the right edge
          yRight: {
            type: "linear",
            position: "right",
            display: true,
            min: 0,
            max: 1,
            afterFit: (s: any) => {
              s.width = 217;
            },
            grid: { display: false, drawTicks: false },
            border: { display: false },
            ticks: { display: false },
          },
        },
      } as any,
      plugins: [decorations],
    });

    return () => {
      chart.destroy();
    };
  }, []);

  return (
    <div style={{ position: "absolute", left: 0, top: 0, width: "3792px", height: "1992px", background: "#fff" }}>
      <canvas ref={canvasRef}></canvas>
    </div>
  );
}
